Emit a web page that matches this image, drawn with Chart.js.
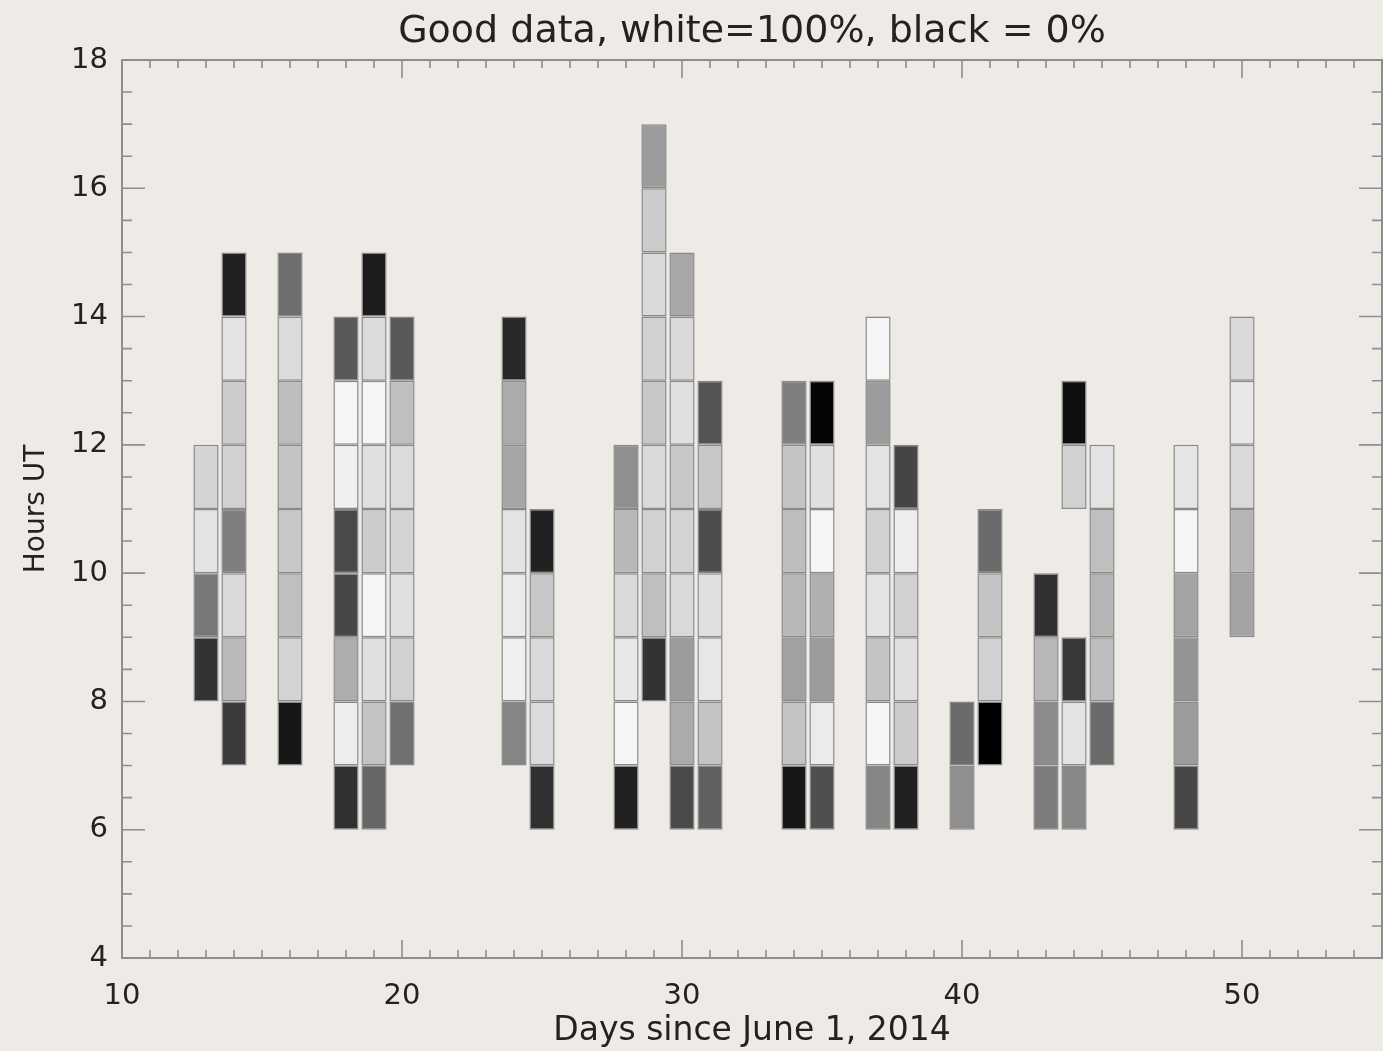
<!DOCTYPE html>
<html>
<head>
<meta charset="utf-8">
<script src="https://cdn.jsdelivr.net/npm/chart.js@4/dist/chart.umd.min.js"></script>
<style>
  html, body { margin: 0; padding: 0; background: #eeebe6; }
  #box { width: 1383px; height: 1051px; }
</style>
</head>
<body>
<div id="box"><canvas id="grafico"></canvas></div>
<script>
// one column per observing day, cells stacked upward from firstHour, one per hour
const days      = [13, 14, 16, 18, 19, 20, 24, 25, 28, 29, 30, 31, 34, 35, 37, 38, 40, 41, 43, 44, 45, 48, 50];
const firstHour = [ 8,  7,  7,  6,  6,  7,  7,  6,  6,  8,  6,  6,  6,  6,  6,  6,  6,  7,  6,  6,  7,  6,  9];

// percent of good data in each hour, bottom to top (null = no cell)
const goodPct = [
  [20, 47, 89, 83],
  [23, 73, 85, 50, 82, 80, 89, 13],
  [9, 83, 75, 78, 77, 74, 86, 43],
  [19, 93, 68, 28, 29, 94, 96, 35],
  [40, 77, 88, 96, 80, 88, 96, 86, 11],
  [44, 82, 88, 83, 86, 75, 35],
  [52, 94, 92, 89, 65, 67, 16],
  [19, 86, 85, 78, 13],
  [13, 96, 91, 85, 72, 56],
  [20, 75, 82, 85, 78, 82, 85, 80, 61],
  [29, 67, 61, 85, 83, 78, 88, 85, 66],
  [38, 77, 91, 88, 30, 78, 33],
  [9, 77, 63, 72, 74, 77, 50],
  [31, 92, 61, 69, 96, 88, 2],
  [52, 96, 77, 89, 82, 89, 61, 96],
  [13, 80, 88, 82, 93, 27],
  [56, 42],
  [0, 82, 77, 42],
  [49, 55, 72, 19],
  [53, 89, 22, null, null, 82, 6],
  [42, 74, 71, 75, 89],
  [28, 61, 58, 64, 96, 90],
  [64, 71, 85, 91, 85]
];

const xTicks = [10, 20, 30, 40, 50];
const yTicks = [4, 6, 8, 10, 12, 14, 16, 18];

let celulas = [];
for (let i = 0; i < days.length; i++) {
  for (let j = 0; j < goodPct[i].length; j++) {
    if (goodPct[i][j] == null) continue;
    let h = firstHour[i] + j;
    celulas.push({ x: days[i], y: [h, h + 1], pct: goodPct[i][j] });
  }
}

function cinza(pct) {
  let v = Math.round(pct * 2.55);
  return "rgb(" + v + "," + v + "," + v + ")";
}

const fonte = "'DejaVu Sans', sans-serif";
const corTexto = "#222";
const corEixo = "#8e8e8e";

// box frame with inward ticks on all four sides, like the old plotting packages
const molduraPlugin = {
  id: "moldura",
  afterDatasetsDraw(chart) {
    let ctx = chart.ctx;
    let a = chart.chartArea;
    let sx = chart.scales.x;
    let sy = chart.scales.y;
    ctx.save();
    ctx.strokeStyle = corEixo;
    ctx.lineWidth = 2;
    ctx.strokeRect(a.left, a.top, a.right - a.left, a.bottom - a.top);
    ctx.lineWidth = 1.6;
    ctx.beginPath();
    for (let d = sx.min; d <= sx.max; d++) {
      let px = sx.getPixelForValue(d);
      let len = xTicks.includes(d) ? 18 : 8;
      ctx.moveTo(px, a.bottom); ctx.lineTo(px, a.bottom - len);
      ctx.moveTo(px, a.top); ctx.lineTo(px, a.top + len);
    }
    for (let h = sy.min; h <= sy.max; h += 0.5) {
      let py = sy.getPixelForValue(h);
      let len = yTicks.includes(h) ? 23 : 10;
      ctx.moveTo(a.left, py); ctx.lineTo(a.left + len, py);
      ctx.moveTo(a.right, py); ctx.lineTo(a.right - len, py);
    }
    ctx.stroke();
    ctx.restore();
  }
};

new Chart(document.getElementById("grafico"), {
  type: "bar",
  data: {
    datasets: [{
      data: celulas,
      backgroundColor: (c) => c.raw ? cinza(c.raw.pct) : "#888",
      borderColor: "rgba(120,120,120,0.85)",
      borderWidth: 1.5,
      borderSkipped: false,
      barPercentage: 0.9,
      categoryPercentage: 1.0,
      grouped: false
    }]
  },
  options: {
    responsive: true,
    maintainAspectRatio: false,
    animation: false,
    layout: { padding: { left: 0, right: 1, top: 0, bottom: 0 } },
    plugins: {
      legend: { display: false },
      tooltip: { enabled: false },
      title: {
        display: true,
        fullSize: false,
        text: "Good data, white=100%, black = 0%",
        color: corTexto,
        font: { family: fonte, size: 38, weight: "normal", lineHeight: 1 },
        padding: { top: 13, bottom: 9 }
      }
    },
    scales: {
      x: {
        type: "linear",
        offset: false,
        min: 10,
        max: 55,
        afterFit: (s) => { s.height = 93; },
        afterBuildTicks: (s) => { s.ticks = xTicks.map(v => ({ value: v })); },
        grid: { display: false, drawTicks: false },
        border: { display: false },
        ticks: { color: corTexto, padding: 21, maxRotation: 0, font: { family: fonte, size: 29 } },
        title: {
          display: true,
          text: "Days since June 1, 2014",
          color: corTexto,
          font: { family: fonte, size: 33, lineHeight: 1.1 },
          padding: { top: 0, bottom: 1 }
        }
      },
      y: {
        type: "linear",
        min: 4,
        max: 18,
        afterFit: (s) => { s.width = 122; },
        afterBuildTicks: (s) => { s.ticks = yTicks.map(v => ({ value: v })); },
        grid: { display: false, drawTicks: false },
        border: { display: false },
        ticks: { color: corTexto, padding: 14, font: { family: fonte, size: 29 } },
        title: {
          display: true,
          text: "Hours UT",
          color: corTexto,
          font: { family: fonte, size: 28, lineHeight: 1.2 },
          padding: { top: 20, bottom: 0 }
        }
      }
    }
  },
  plugins: [molduraPlugin]
});
</script>
</body>
</html>
